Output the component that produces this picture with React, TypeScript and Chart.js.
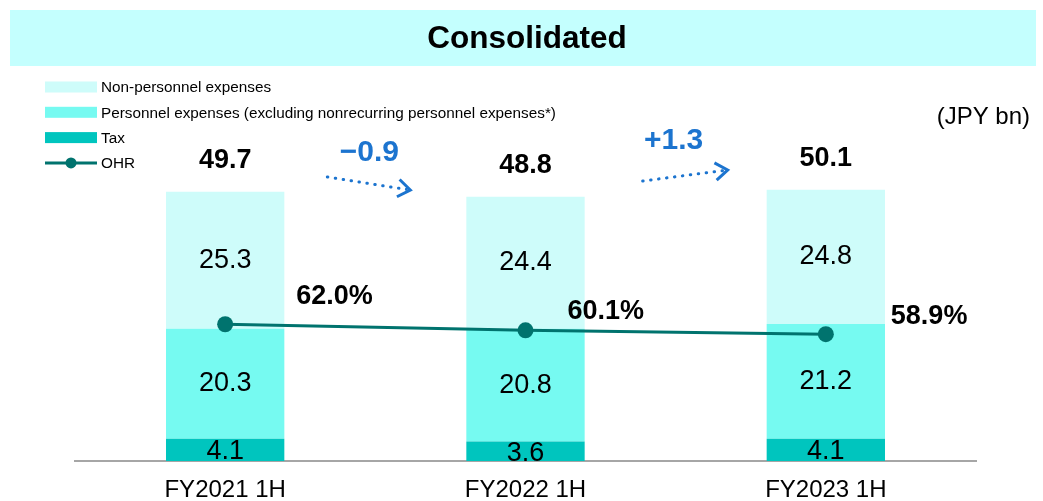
import React, { useEffect, useRef } from "react";
import { Chart, registerables } from "chart.js";

Chart.register(...registerables);

// ---------- data ----------
const categories = ["FY2021 1H", "FY2022 1H", "FY2023 1H"];
const taxValues = [4.1, 3.6, 4.1];
const personnelValues = [20.3, 20.8, 21.2];
const nonPersonnelValues = [25.3, 24.4, 24.8];
const totalValues = [49.7, 48.8, 50.1];
const ohrValues = [62.0, 60.1, 58.9];
const changeLabels = ["−0.9", "+1.3"];

const titleText = "Consolidated";
const unitText = "(JPY bn)";
const nameNonPersonnel = "Non-personnel expenses";
const namePersonnel = "Personnel expenses (excluding nonrecurring personnel expenses*)";
const nameTax = "Tax";
const nameOhr = "OHR";

// ---------- styles ----------
const FONT = '"Liberation Sans", Arial, Helvetica, sans-serif';
const C_NONPERS = "#CEFCFA";
const C_PERS = "#76FAF1";
const C_TAX = "#00C5BE";
const C_OHR = "#00736E";
const C_BLUE = "#1C74CF";
const C_BAND = "#C4FFFE";

const ohrLabelOffsets = [
  { dx: 71, dy: -28 },
  { dx: 42, dy: -19 },
  { dx: 65, dy: -18 },
];
const arrowGeom = [
  { x0: -48, y0: 177, x1: 35, y1: 190, lx: -6, ly: 153 },
  { x0: -33, y0: 181, x1: 52, y1: 170, lx: -2, ly: 141 },
];

function drawArrow(ctx: CanvasRenderingContext2D, x0: number, y0: number, x1: number, y1: number) {
  const a = Math.atan2(y1 - y0, x1 - x0);
  ctx.save();
  ctx.strokeStyle = C_BLUE;
  ctx.lineWidth = 3;
  ctx.lineCap = "round";
  ctx.setLineDash([0.5, 7.5]);
  ctx.beginPath();
  ctx.moveTo(x0, y0);
  ctx.lineTo(x1 - 4 * Math.cos(a), y1 - 4 * Math.sin(a));
  ctx.stroke();
  ctx.setLineDash([]);
  const len = 15;
  const spread = 0.62;
  ctx.lineCap = "butt";
  ctx.lineJoin = "miter";
  ctx.beginPath();
  ctx.moveTo(x1 - len * Math.cos(a - spread), y1 - len * Math.sin(a - spread));
  ctx.lineTo(x1, y1);
  ctx.lineTo(x1 - len * Math.cos(a + spread), y1 - len * Math.sin(a + spread));
  ctx.stroke();
  ctx.restore();
}

const overlayPlugin = {
  id: "overlay",
  beforeDraw(chart: any) {
    const ctx: CanvasRenderingContext2D = chart.ctx;
    ctx.save();
    // title band
    ctx.fillStyle = C_BAND;
    ctx.fillRect(10, 10, 1026, 56);
    ctx.fillStyle = "#000";
    ctx.font = `bold 31.5px ${FONT}`;
    ctx.textAlign = "center";
    ctx.textBaseline = "middle";
    ctx.fillText(titleText, 527, 39);
    // unit
    ctx.font = `24px ${FONT}`;
    ctx.textAlign = "right";
    ctx.fillText(unitText, 1030, 117);
    // legend
    const ds = chart.data.datasets;
    const legendItems = [ds[2], ds[1], ds[0], ds[3]];
    ctx.font = `15.3px ${FONT}`;
    ctx.textAlign = "left";
    legendItems.forEach((d: any, i: number) => {
      const y = 87 + i * 25.3;
      if (d.type === "line") {
        ctx.strokeStyle = d.borderColor;
        ctx.lineWidth = 3;
        ctx.beginPath();
        ctx.moveTo(45, y);
        ctx.lineTo(97, y);
        ctx.stroke();
        ctx.fillStyle = d.borderColor;
        ctx.beginPath();
        ctx.arc(71, y, 5.5, 0, Math.PI * 2);
        ctx.fill();
      } else {
        ctx.fillStyle = d.backgroundColor;
        ctx.fillRect(45, y - 5.5, 52, 11);
      }
      ctx.fillStyle = "#000";
      ctx.fillText(d.label, 101, y + 1);
    });
    ctx.restore();
  },
  afterDatasetsDraw(chart: any) {
    const ctx: CanvasRenderingContext2D = chart.ctx;
    ctx.save();
    ctx.textAlign = "center";
    ctx.textBaseline = "middle";
    ctx.fillStyle = "#000";
    // segment labels
    ctx.font = `27px ${FONT}`;
    [0, 1, 2].forEach((di) => {
      const meta = chart.getDatasetMeta(di);
      const vals = chart.data.datasets[di].data;
      meta.data.forEach((el: any, i: number) => {
        const cy = (el.y + el.base) / 2 + (di === 0 ? 2 : 0);
        ctx.fillText(vals[i].toFixed(1), el.x, cy);
      });
    });
    // totals
    ctx.font = `bold 27px ${FONT}`;
    const topMeta = chart.getDatasetMeta(2);
    topMeta.data.forEach((el: any, i: number) => {
      ctx.fillText(totalValues[i].toFixed(1), el.x, el.y - 31);
    });
    // OHR labels
    const lineMeta = chart.getDatasetMeta(3);
    ctx.textAlign = "left";
    lineMeta.data.forEach((el: any, i: number) => {
      const o = ohrLabelOffsets[i];
      ctx.fillText(ohrValues[i].toFixed(1) + "%", el.x + o.dx, el.y + o.dy);
    });
    // change arrows
    const xs = chart.scales.x;
    ctx.textAlign = "center";
    ctx.font = `bold 30px ${FONT}`;
    changeLabels.forEach((lab, i) => {
      const mid = (xs.getPixelForValue(i) + xs.getPixelForValue(i + 1)) / 2;
      const g = arrowGeom[i];
      ctx.fillStyle = C_BLUE;
      ctx.fillText(lab, mid + g.lx, g.ly);
      drawArrow(ctx, mid + g.x0, g.y0, mid + g.x1, g.y1);
    });
    ctx.restore();
  },
};

export default function App() {
  const ref = useRef<HTMLCanvasElement>(null);
  useEffect(() => {
    if (!ref.current) return;
    const chart = new Chart(ref.current, {
      type: "bar",
      data: {
        labels: categories,
        datasets: [
          { type: "bar", label: nameTax, data: taxValues, backgroundColor: C_TAX, order: 1, yAxisID: "y" },
          { type: "bar", label: namePersonnel, data: personnelValues, backgroundColor: C_PERS, order: 1, yAxisID: "y" },
          { type: "bar", label: nameNonPersonnel, data: nonPersonnelValues, backgroundColor: C_NONPERS, order: 1, yAxisID: "y" },
          {
            type: "line",
            label: nameOhr,
            data: ohrValues,
            borderColor: C_OHR,
            backgroundColor: C_OHR,
            borderWidth: 3,
            pointRadius: 8,
            pointHoverRadius: 8,
            pointBackgroundColor: C_OHR,
            pointBorderWidth: 0,
            order: 0,
            yAxisID: "y2",
          } as any,
        ],
      },
      options: {
        responsive: false,
        animation: false,
        layout: { padding: { left: 75, right: 67, top: 136, bottom: 0 } },
        datasets: { bar: { barPercentage: 0.394, categoryPercentage: 1 } } as any,
        plugins: { legend: { display: false }, tooltip: { enabled: false }, title: { display: false } },
        scales: {
          x: {
            stacked: true,
            grid: { display: false, drawTicks: false },
            border: { display: true, color: "#A6A6A6", width: 2 },
            ticks: { color: "#000", font: { family: FONT, size: 24 }, padding: 14.6 },
          },
          y: { stacked: true, display: false, min: 0, max: 60 },
          y2: { display: false, min: 19.5, max: 120.5 },
        },
      },
      plugins: [overlayPlugin],
    });
    return () => chart.destroy();
  }, []);
  return (
    <div style={{ position: "fixed", left: 0, top: 0, width: 1043, height: 501, overflow: "hidden", background: "#fff" }}>
      <canvas ref={ref} width={1043} height={519} />
    </div>
  );
}
